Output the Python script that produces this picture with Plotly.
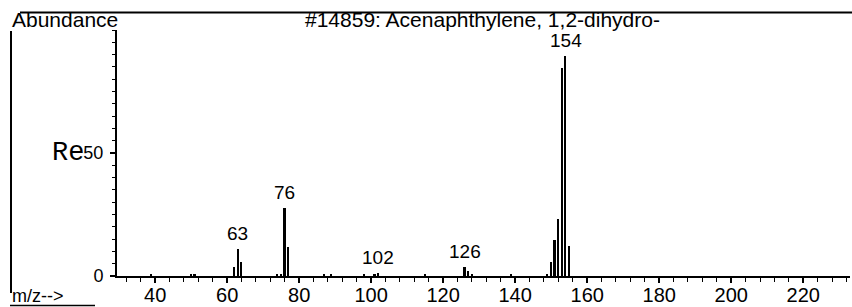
import plotly.graph_objects as go

# m/z values and relative intensities
mz = [39, 50, 51, 62, 63, 64, 74, 75, 76, 77, 87, 89, 98, 101, 102,
      115, 126, 127, 128, 139, 149, 150, 151, 152, 153, 154, 155]
intensity = [0.6, 0.5, 0.6, 3.7, 11.0, 5.8, 0.8, 1.0, 27.5, 11.8, 0.6, 0.5, 0.6, 0.6, 1.2,
             0.5, 3.5, 2.2, 1.0, 0.5, 0.8, 5.7, 14.6, 23.0, 84.5, 89.5, 12.0]

label_mz = [63, 76, 102, 126, 154]
label_int = [11.0, 27.5, 1.2, 3.5, 89.5]

x_tick_vals = [40, 60, 80, 100, 120, 140, 160, 180, 200, 220]
y_tick_vals = [0, 50]

title_text = "#14859: Acenaphthylene, 1,2-dihydro-"

W, H = 852, 307
ML, MR, MT, MB = 117, 2, 30, 31
PW = W - ML - MR
PH = H - MT - MB


def px_x(x):
    return (x - ML) / PW


def px_y(y):
    return (H - MB - y) / PH


FONT = "Arial, Liberation Sans, Helvetica, sans-serif"

fig = go.Figure()
fig.add_trace(go.Bar(
    x=mz, y=intensity, width=0.45,
    marker=dict(color="black", line=dict(width=0)),
    hoverinfo="x+y", showlegend=False,
))

annotations = []
for m, v in zip(label_mz, label_int):
    annotations.append(dict(
        x=m, y=v, xref="x", yref="y", text=str(m), showarrow=False,
        yanchor="bottom", xanchor="center", yshift=3,
        font=dict(family=FONT, size=19, color="black"),
    ))

annotations += [
    dict(x=px_x(10), y=px_y(19), xref="paper", yref="paper", text="Abundance",
         showarrow=False, xanchor="left", yanchor="middle",
         font=dict(family=FONT, size=21, color="black")),
    dict(x=px_x(482), y=px_y(19), xref="paper", yref="paper", text=title_text,
         showarrow=False, xanchor="center", yanchor="middle",
         font=dict(family=FONT, size=21, color="black")),
    dict(x=px_x(86), y=px_y(153), xref="paper", yref="paper", text="Re",
         showarrow=False, xanchor="right", yanchor="middle",
         font=dict(family="Courier New, Liberation Mono, monospace", size=27, color="black")),
    dict(x=px_x(10), y=px_y(296), xref="paper", yref="paper", text="m/z-->",
         showarrow=False, xanchor="left", yanchor="middle",
         font=dict(family=FONT, size=18, color="black")),
]

shapes = [
    dict(type="line", xref="paper", yref="paper",
         x0=px_x(20), x1=px_x(852), y0=px_y(12.5), y1=px_y(12.5),
         line=dict(color="black", width=2)),
    dict(type="line", xref="paper", yref="paper",
         x0=px_x(11), x1=px_x(11), y0=px_y(31), y1=px_y(293),
         line=dict(color="black", width=2)),
    dict(type="line", xref="paper", yref="paper",
         x0=px_x(10), x1=px_x(95), y0=px_y(305.5), y1=px_y(305.5),
         line=dict(color="black", width=1.5)),
]

fig.update_layout(
    width=W, height=H,
    margin=dict(l=ML, r=MR, t=MT, b=MB, pad=0),
    paper_bgcolor="white", plot_bgcolor="white",
    annotations=annotations, shapes=shapes,
    bargap=0, showlegend=False,
    xaxis=dict(
        range=[29.4, 233.0], tickvals=x_tick_vals, ticktext=[str(v) for v in x_tick_vals],
        showgrid=False, zeroline=False,
        showline=True, linecolor="black", linewidth=2,
        ticks="outside", ticklen=5, tickwidth=1.5, tickcolor="black",
        minor=dict(dtick=4, tick0=0, ticks="outside", ticklen=4, tickwidth=1.2, tickcolor="black", showgrid=False),
        tickfont=dict(family=FONT, size=20, color="black"),
        ticklabelstandoff=-5,
    ),
    yaxis=dict(
        range=[0, 100], tickvals=y_tick_vals, ticktext=[str(v) for v in y_tick_vals],
        showgrid=False, zeroline=False,
        showline=True, linecolor="black", linewidth=2,
        ticks="outside", ticklen=5, tickwidth=1.5, tickcolor="black",
        minor=dict(dtick=5, tick0=0, ticks="outside", ticklen=3, tickwidth=1, tickcolor="black", showgrid=False),
        tickfont=dict(family=FONT, size=18, color="black"),
        ticklabelstandoff=3,
    ),
)

fig.write_html("out.html", config={"displayModeBar": False},
               post_script="document.body.style.margin='0';")
